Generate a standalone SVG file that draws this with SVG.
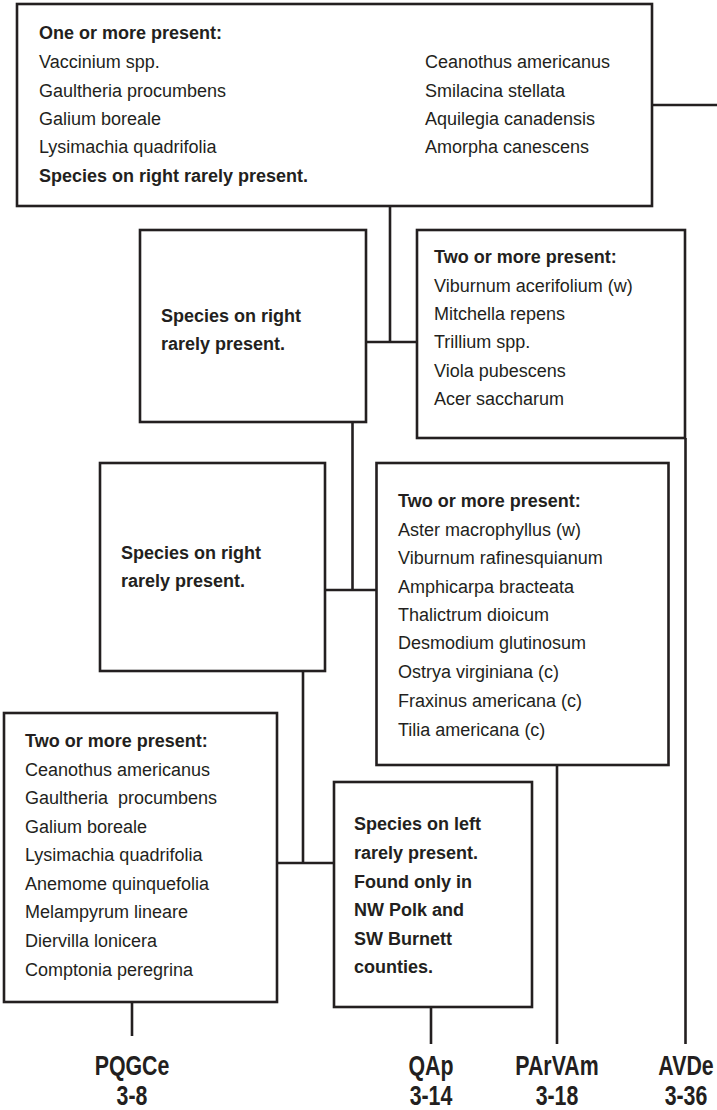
<svg xmlns="http://www.w3.org/2000/svg" width="717" height="1110" viewBox="0 0 717 1110">
<style>
rect.box{fill:#fff;stroke:#231f20;stroke-width:2.6}
.conn line{stroke:#231f20;stroke-width:2.6}
text{font-family:"Liberation Sans",Arial,sans-serif;font-size:18px;fill:#231f20;white-space:pre}
.b{font-weight:bold}
.lab{font-weight:bold;font-size:27px;text-anchor:middle}
</style>
<rect width="717" height="1110" fill="#fff"/>
<g class="conn">
<line x1="652" y1="105" x2="717" y2="105"/>
<line x1="390" y1="206" x2="390" y2="342"/>
<line x1="366" y1="342" x2="417" y2="342"/>
<line x1="352.5" y1="422" x2="352.5" y2="590"/>
<line x1="325" y1="590" x2="376.5" y2="590"/>
<line x1="303" y1="671" x2="303" y2="863"/>
<line x1="277" y1="863" x2="334" y2="863"/>
<line x1="685.5" y1="438" x2="685.5" y2="1044"/>
<line x1="557" y1="765" x2="557" y2="1044"/>
<line x1="431" y1="1007" x2="431" y2="1044"/>
<line x1="132" y1="1002" x2="132" y2="1036"/>
</g>
<g id="n1">
<rect class="box" x="17" y="4" width="635" height="202"/>
<text class="b" x="39" y="39">One or more present:</text>
<text x="39" y="68">Vaccinium spp.</text>
<text x="39" y="97">Gaultheria procumbens</text>
<text x="39" y="125">Galium boreale</text>
<text x="39" y="153">Lysimachia quadrifolia</text>
<text class="b" x="39" y="182">Species on right rarely present.</text>
<text x="425" y="68">Ceanothus americanus</text>
<text x="425" y="97">Smilacina stellata</text>
<text x="425" y="125">Aquilegia canadensis</text>
<text x="425" y="153">Amorpha canescens</text>
</g>
<g id="n2">
<rect class="box" x="140" y="230" width="226" height="192"/>
<text class="b" x="161" y="322">Species on right</text>
<text class="b" x="161" y="350">rarely present.</text>
</g>
<g id="n3">
<rect class="box" x="417" y="230" width="268" height="208"/>
<text class="b" x="434" y="263">Two or more present:</text>
<text x="434" y="292">Viburnum acerifolium (w)</text>
<text x="434" y="320">Mitchella repens</text>
<text x="434" y="348">Trillium spp.</text>
<text x="434" y="377">Viola pubescens</text>
<text x="434" y="405">Acer saccharum</text>
</g>
<g id="n4">
<rect class="box" x="100" y="463" width="225" height="208"/>
<text class="b" x="121" y="559">Species on right</text>
<text class="b" x="121" y="587">rarely present.</text>
</g>
<g id="n5">
<rect class="box" x="376.5" y="463" width="292" height="302"/>
<text class="b" x="398" y="507">Two or more present:</text>
<text x="398" y="536">Aster macrophyllus (w)</text>
<text x="398" y="564">Viburnum rafinesquianum</text>
<text x="398" y="593">Amphicarpa bracteata</text>
<text x="398" y="621">Thalictrum dioicum</text>
<text x="398" y="649">Desmodium glutinosum</text>
<text x="398" y="678">Ostrya virginiana (c)</text>
<text x="398" y="707">Fraxinus americana (c)</text>
<text x="398" y="736">Tilia americana (c)</text>
</g>
<g id="n6">
<rect class="box" x="4" y="713" width="273" height="289"/>
<text class="b" x="25" y="747">Two or more present:</text>
<text x="25" y="776">Ceanothus americanus</text>
<text x="25" y="804">Gaultheria  procumbens</text>
<text x="25" y="833">Galium boreale</text>
<text x="25" y="861">Lysimachia quadrifolia</text>
<text x="25" y="890">Anemome quinquefolia</text>
<text x="25" y="918">Melampyrum lineare</text>
<text x="25" y="947">Diervilla lonicera</text>
<text x="25" y="976">Comptonia peregrina</text>
</g>
<g id="n7">
<rect class="box" x="334" y="782" width="198" height="225"/>
<text class="b" x="354" y="830">Species on left</text>
<text class="b" x="354" y="859">rarely present.</text>
<text class="b" x="354" y="888">Found only in</text>
<text class="b" x="354" y="916">NW Polk and</text>
<text class="b" x="354" y="945">SW Burnett</text>
<text class="b" x="354" y="973">counties.</text>
</g>
<g id="l1"><text class="lab" transform="translate(132 1075) scale(0.79 1)">PQGCe</text><text class="lab" transform="translate(132 1105) scale(0.79 1)">3-8</text></g>
<g id="l2"><text class="lab" transform="translate(431 1075) scale(0.79 1)">QAp</text><text class="lab" transform="translate(431 1105) scale(0.79 1)">3-14</text></g>
<g id="l3"><text class="lab" transform="translate(557 1075) scale(0.79 1)">PArVAm</text><text class="lab" transform="translate(557 1105) scale(0.79 1)">3-18</text></g>
<g id="l4"><text class="lab" transform="translate(686 1075) scale(0.79 1)">AVDe</text><text class="lab" transform="translate(686 1105) scale(0.79 1)">3-36</text></g>
</svg>
